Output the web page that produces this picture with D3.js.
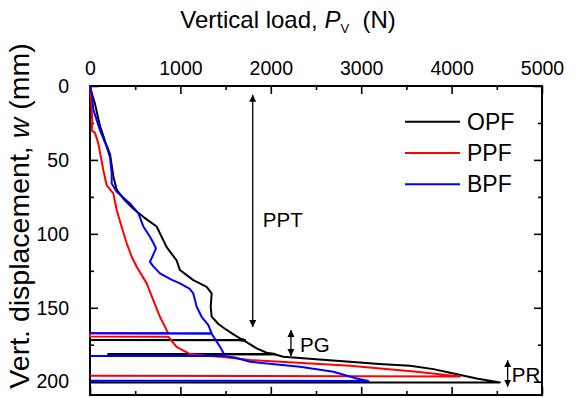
<!DOCTYPE html>
<html>
<head>
<meta charset="utf-8">
<script src="https://cdn.jsdelivr.net/npm/d3@7"></script>
<style>
  body { margin: 0; background: #fff; }
  svg { display: block; font-family: "Liberation Sans", Arial, sans-serif; }
</style>
</head>
<body>
<div id="app"></div>
<script>
// load (N), displacement (mm) pairs
const opf = [
  [0, 0], [20, 5], [55, 12], [110, 27], [170, 38], [221, 46], [258, 61], [295, 70],
  [380, 77], [479, 83], [600, 89], [737, 95], [848, 109], [958, 118], [995, 124.5],
  [1143, 131.3], [1290, 135.8], [1346, 140.3], [1335, 149.3], [1346, 156], [1420, 161],
  [1512, 165], [1600, 168.5], [1659, 170.7], [1714, 171.8],
  [0, 171.8], [1650, 172], [1714, 172.5], [1844, 177.5], [1954, 180.4], [2050, 181.3],
  [200, 181.3], [2050, 181.6], [2138, 183.1], [2500, 184.8], [2876, 186.5], [3200, 188],
  [3539, 189.2], [3800, 191.5], [3982, 193.9], [4277, 197.8], [4535, 200.5], [0, 200.5]
];
const ppf = [
  [0, 0], [10, 8], [19, 16], [25, 24], [19, 30], [55, 31.7], [92, 38.8], [120, 48],
  [147, 56.8], [184, 67], [258, 72.6], [295, 83.9], [350, 95.2], [406, 106.4],
  [461, 115.5], [516, 122.3], [627, 133.5], [700, 144.8], [774, 156.1], [866, 167.3],
  [0, 167.3], [0, 169.4], [866, 169.6], [958, 176.4], [1106, 181.3], [1300, 182.5],
  [1500, 183.5], [1770, 185.4], [2300, 187.2], [2876, 189.2], [3613, 193.3],
  [4092, 196.5], [0, 196]
];
const bpf = [
  [0, 0], [10, 3], [19, 5], [37, 16], [111, 30], [184, 41], [221, 48], [240, 59],
  [240, 66], [295, 71.5], [442, 79.4], [534, 86], [590, 95], [663, 102], [700, 106],
  [730, 109.8], [700, 114], [663, 118.9], [700, 122], [774, 126.7], [900, 131],
  [995, 133.5], [1100, 137], [1143, 140.3], [1180, 149.3], [1235, 156.1],
  [1309, 161.7], [1346, 167.3], [0, 167.3], [1346, 167.6], [1438, 176.4],
  [1493, 182.4], [0, 182.7], [1493, 182.7], [1600, 183.6], [1770, 186.5],
  [2323, 189.9], [2692, 193.3], [2950, 197.8], [3078, 199.5], [0, 199.3]
];

const series = [
  { name: 'OPF', color: '#000000', values: opf },
  { name: 'PPF', color: '#ff0000', values: ppf },
  { name: 'BPF', color: '#0000ff', values: bpf }
];

const xTicks = [0, 1000, 2000, 3000, 4000, 5000];
const xMinor = [500, 1500, 2500, 3500, 4500];
const yTicks = [0, 50, 100, 150, 200];
const yMinor = [25, 75, 125, 175];

// annotations: [load, w from, w to]
const arrows = [
  { label: 'PPT', at: 1800, from: 6, to: 163, lx: 1912, ly: 95.4 },
  { label: 'PG', at: 2223, from: 165, to: 182.7, lx: 2323, ly: 179.8 },
  { label: 'PR', at: 4620, from: 185.4, to: 203.4, lx: 4665, ly: 200 }
];

const svgConf = {
  width: 576,
  height: 398,
  margin: { top: 86, right: 34, bottom: 3, left: 90 }
};

function main() {
  const { width, height, margin } = svgConf;
  const svg = d3.select('#app').append('svg')
    .attr('width', width)
    .attr('height', height);

  const x = d3.scaleLinear()
    .domain([0, 5000])
    .range([margin.left, width - margin.right]);

  const y = d3.scaleLinear()
    .domain([0, 209])
    .range([margin.top, height - margin.bottom]);

  const fmt = d3.format('d');

  const axisStyle = g => {
    g.select('.domain').remove();
    g.selectAll('line').attr('stroke', '#000').attr('stroke-width', 1.6);
    g.selectAll('text').attr('fill', '#000').style('font-size', '19.5px');
  };

  // top axis with labels
  svg.append('g')
    .attr('transform', `translate(0, ${margin.top})`)
    .call(d3.axisTop(x).tickValues(xTicks).tickSize(-8).tickPadding(11).tickFormat(fmt))
    .call(axisStyle);
  svg.append('g')
    .attr('transform', `translate(0, ${margin.top})`)
    .call(d3.axisTop(x).tickValues(xMinor).tickSize(-4).tickFormat(''))
    .call(axisStyle);

  // bottom axis, ticks only
  svg.append('g')
    .attr('transform', `translate(0, ${height - margin.bottom})`)
    .call(d3.axisBottom(x).tickValues(xTicks).tickSize(-8).tickFormat(''))
    .call(axisStyle);
  svg.append('g')
    .attr('transform', `translate(0, ${height - margin.bottom})`)
    .call(d3.axisBottom(x).tickValues(xMinor).tickSize(-4).tickFormat(''))
    .call(axisStyle);

  // left axis with labels
  svg.append('g')
    .attr('transform', `translate(${margin.left}, 0)`)
    .call(d3.axisLeft(y).tickValues(yTicks).tickSize(-8).tickPadding(21).tickFormat(fmt))
    .call(axisStyle);
  svg.append('g')
    .attr('transform', `translate(${margin.left}, 0)`)
    .call(d3.axisLeft(y).tickValues(yMinor).tickSize(-4).tickFormat(''))
    .call(axisStyle);

  // right axis, ticks only
  svg.append('g')
    .attr('transform', `translate(${width - margin.right}, 0)`)
    .call(d3.axisRight(y).tickValues(yTicks).tickSize(-8).tickFormat(''))
    .call(axisStyle);
  svg.append('g')
    .attr('transform', `translate(${width - margin.right}, 0)`)
    .call(d3.axisRight(y).tickValues(yMinor).tickSize(-4).tickFormat(''))
    .call(axisStyle);

  // frame
  svg.append('rect')
    .attr('x', margin.left)
    .attr('y', margin.top)
    .attr('width', width - margin.left - margin.right)
    .attr('height', height - margin.top - margin.bottom)
    .attr('fill', 'none')
    .attr('stroke', '#000')
    .attr('stroke-width', 2);

  // curves
  const line = d3.line()
    .x(d => x(d[0]))
    .y(d => y(d[1]));

  svg.append('g')
    .selectAll('path')
    .data(series)
    .enter()
    .append('path')
    .attr('d', d => line(d.values))
    .attr('fill', 'none')
    .attr('stroke', d => d.color)
    .attr('stroke-width', 2)
    .attr('stroke-linejoin', 'round');

  // arrows
  const defs = svg.append('defs');
  ['start', 'end'].forEach(k => {
    defs.append('marker')
      .attr('id', 'head-' + k)
      .attr('viewBox', '0 0 10 10')
      .attr('refX', k === 'end' ? 10 : 0)
      .attr('refY', 5)
      .attr('markerWidth', 7)
      .attr('markerHeight', 7)
      .attr('markerUnits', 'userSpaceOnUse')
      .attr('orient', 'auto')
      .append('path')
      .attr('d', k === 'end' ? 'M0,0L10,5L0,10Z' : 'M10,0L0,5L10,10Z')
      .attr('fill', '#000');
  });

  const ann = svg.append('g');
  ann.selectAll('line')
    .data(arrows)
    .enter()
    .append('line')
    .attr('x1', d => x(d.at))
    .attr('x2', d => x(d.at))
    .attr('y1', d => y(d.from))
    .attr('y2', d => y(d.to))
    .attr('stroke', '#000')
    .attr('stroke-width', 1.3)
    .attr('marker-start', 'url(#head-start)')
    .attr('marker-end', 'url(#head-end)');

  ann.selectAll('text')
    .data(arrows)
    .enter()
    .append('text')
    .attr('x', d => x(d.lx))
    .attr('y', d => y(d.ly))
    .style('font-size', '20.5px')
    .text(d => d.label);

  // legend
  const legend = svg.append('g')
    .attr('transform', 'translate(405, 121.7)');
  const item = legend.selectAll('g')
    .data(series)
    .enter()
    .append('g')
    .attr('transform', (d, i) => `translate(0, ${i * 31.3})`);
  item.append('line')
    .attr('x1', 0).attr('x2', 55)
    .attr('stroke', d => d.color)
    .attr('stroke-width', 2);
  item.append('text')
    .attr('x', 62)
    .attr('dy', '0.35em')
    .style('font-size', '23px')
    .text(d => d.name);

  // axis titles
  const title = svg.append('text')
    .attr('x', 288)
    .attr('y', 28)
    .attr('text-anchor', 'middle')
    .style('font-size', '24px');
  title.append('tspan').text('Vertical load, ');
  title.append('tspan').style('font-style', 'italic').text('P');
  title.append('tspan').attr('dy', 5).style('font-size', '13px').text('V');
  title.append('tspan').attr('dy', -5).text('\u00a0 (N)');

  const ylab = svg.append('text')
    .attr('transform', 'translate(29, 216) rotate(-90)')
    .attr('text-anchor', 'middle')
    .style('font-size', '28.5px');
  ylab.append('tspan').text('Vert. displacement, ');
  ylab.append('tspan').style('font-style', 'italic').text('w');
  ylab.append('tspan').text(' (mm)');
}

main();
</script>
</body>
</html>
